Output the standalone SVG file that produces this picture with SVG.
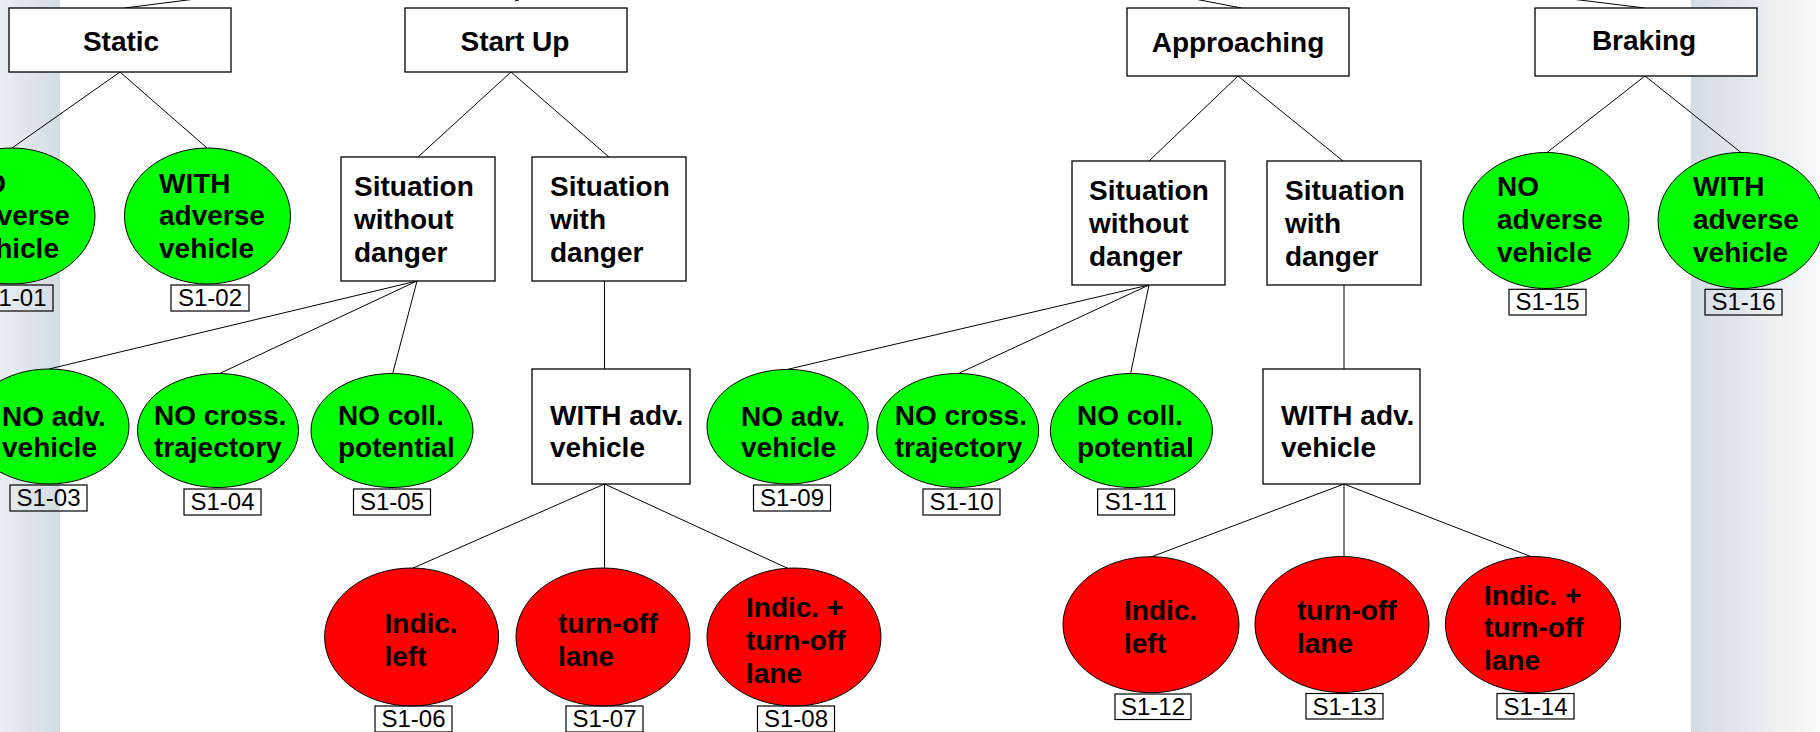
<svg xmlns="http://www.w3.org/2000/svg" width="1820" height="732" viewBox="0 0 1820 732">
<defs>
<linearGradient id="gl" x1="0" y1="0" x2="1" y2="0"><stop offset="0" stop-color="#e9eef1"/><stop offset="1" stop-color="#d2dce3"/></linearGradient>
<linearGradient id="gr" x1="0" y1="0" x2="1" y2="0"><stop offset="0" stop-color="#d2dce3"/><stop offset="1" stop-color="#f9fafb"/></linearGradient>
<style>
.box{fill:#fff;stroke:#000;stroke-width:1.3}
.g{fill:#00ff00;stroke:#000;stroke-width:1}
.r{fill:#ff0000;stroke:#000;stroke-width:1}
.lb{fill:none;stroke:#000;stroke-width:1.2}
.t{font-family:"Liberation Sans",Arial,sans-serif;font-weight:bold;font-size:28px;fill:#000}
.c{text-anchor:middle}
.s{font-family:"Liberation Sans",Arial,sans-serif;font-size:24px;fill:#000;text-anchor:middle}
.conn line{stroke:#000;stroke-width:1}
</style>
</defs>
<rect x="0" y="0" width="1820" height="732" fill="#fff"/>
<rect x="0" y="0" width="60" height="732" fill="url(#gl)"/>
<rect x="1691" y="0" width="129" height="732" fill="url(#gr)"/>

<g id="connectors" class="conn">
<line x1="124.5" y1="8" x2="203.5" y2="-2"/>
<line x1="515" y1="1" x2="519" y2="0"/>
<line x1="1241.5" y1="8" x2="1189.5" y2="-2"/>
<line x1="1644.8" y1="8" x2="1563.5" y2="-2"/>
<line x1="120" y1="72" x2="12" y2="148"/>
<line x1="120" y1="72" x2="207" y2="148"/>
<line x1="511" y1="72" x2="418" y2="157"/>
<line x1="511" y1="72" x2="609" y2="157"/>
<line x1="417" y1="281" x2="49" y2="369"/>
<line x1="417" y1="281" x2="219.6" y2="373.5"/>
<line x1="417" y1="281" x2="392.7" y2="373.5"/>
<line x1="604.5" y1="281" x2="604.5" y2="369"/>
<line x1="604.5" y1="484" x2="412" y2="568.5"/>
<line x1="604.5" y1="484" x2="604.5" y2="568.5"/>
<line x1="604.5" y1="484" x2="788" y2="568.5"/>
<line x1="1238" y1="76" x2="1149" y2="161"/>
<line x1="1238" y1="76" x2="1343" y2="161"/>
<line x1="1149" y1="285" x2="787.8" y2="369.3"/>
<line x1="1149" y1="285" x2="958.4" y2="373.5"/>
<line x1="1149" y1="285" x2="1130.6" y2="373.5"/>
<line x1="1344" y1="285" x2="1344" y2="369"/>
<line x1="1344" y1="484" x2="1151" y2="557"/>
<line x1="1344" y1="484" x2="1344" y2="557"/>
<line x1="1344" y1="484" x2="1532" y2="557"/>
<line x1="1645" y1="76" x2="1547" y2="152.5"/>
<line x1="1645" y1="76" x2="1741" y2="152.5"/>
</g>

<g id="static"><rect class="box" x="9" y="8" width="222" height="64"/><text class="t c" x="121" y="51">Static</text></g>
<g id="startup"><rect class="box" x="405" y="8" width="222" height="64"/><text class="t c" x="515" y="51">Start Up</text></g>
<g id="approaching"><rect class="box" x="1127" y="8" width="222" height="68"/><text class="t c" x="1238" y="52">Approaching</text></g>
<g id="braking"><rect class="box" x="1535" y="8" width="222" height="68"/><text class="t c" x="1644" y="50">Braking</text></g>

<g id="su-without"><rect class="box" x="341" y="157" width="154" height="124"/><text class="t" x="354"><tspan x="354" y="196">Situation</tspan><tspan x="354" y="229">without</tspan><tspan x="354" y="262">danger</tspan></text></g>
<g id="su-with"><rect class="box" x="532" y="157" width="154" height="124"/><text class="t" x="550"><tspan x="550" y="196">Situation</tspan><tspan x="550" y="229">with</tspan><tspan x="550" y="262">danger</tspan></text></g>
<g id="su-withadv"><rect class="box" x="532" y="369" width="158" height="115"/><text class="t"><tspan x="550" y="425">WITH adv.</tspan><tspan x="550" y="457">vehicle</tspan></text></g>
<g id="ap-without"><rect class="box" x="1072" y="161" width="153" height="124"/><text class="t"><tspan x="1089" y="200">Situation</tspan><tspan x="1089" y="233">without</tspan><tspan x="1089" y="266">danger</tspan></text></g>
<g id="ap-with"><rect class="box" x="1267" y="161" width="154" height="124"/><text class="t"><tspan x="1285" y="200">Situation</tspan><tspan x="1285" y="233">with</tspan><tspan x="1285" y="266">danger</tspan></text></g>
<g id="ap-withadv"><rect class="box" x="1263" y="369" width="157" height="115"/><text class="t"><tspan x="1281" y="425">WITH adv.</tspan><tspan x="1281" y="457">vehicle</tspan></text></g>

<g id="s1-01"><ellipse class="g" cx="12" cy="216" rx="83" ry="68"/><text class="t"><tspan x="-36" y="193">NO</tspan><tspan x="-36" y="225">adverse</tspan><tspan x="-36" y="258">vehicle</tspan></text><rect class="lb" x="-24" y="285" width="77" height="26"/><text class="s" x="14.5" y="306">S1-01</text></g>
<g id="s1-02"><ellipse class="g" cx="207.5" cy="216" rx="83" ry="68"/><text class="t"><tspan x="159" y="193">WITH</tspan><tspan x="159" y="225">adverse</tspan><tspan x="159" y="258">vehicle</tspan></text><rect class="lb" x="171" y="285" width="78" height="26"/><text class="s" x="210" y="306">S1-02</text></g>
<g id="s1-03"><ellipse class="g" cx="49" cy="426.5" rx="80" ry="57.5"/><text class="t"><tspan x="2" y="426">NO adv.</tspan><tspan x="2" y="457">vehicle</tspan></text><rect class="lb" x="10" y="485" width="77" height="26"/><text class="s" x="48.5" y="506">S1-03</text></g>
<g id="s1-04"><ellipse class="g" cx="218" cy="430.5" rx="80.5" ry="57"/><text class="t"><tspan x="154" y="425">NO cross.</tspan><tspan x="154" y="457">trajectory</tspan></text><rect class="lb" x="184" y="489" width="77" height="26"/><text class="s" x="222.5" y="510">S1-04</text></g>
<g id="s1-05"><ellipse class="g" cx="392" cy="430.5" rx="81" ry="57"/><text class="t"><tspan x="338" y="425">NO coll.</tspan><tspan x="338" y="457">potential</tspan></text><rect class="lb" x="353.5" y="489" width="77" height="26"/><text class="s" x="392" y="510">S1-05</text></g>
<g id="s1-06"><ellipse class="r" cx="411.6" cy="637" rx="87" ry="69"/><text class="t"><tspan x="384.5" y="633">Indic.</tspan><tspan x="384.5" y="666">left</tspan></text><rect class="lb" x="375" y="706" width="77" height="26"/><text class="s" x="413.5" y="727">S1-06</text></g>
<g id="s1-07"><ellipse class="r" cx="603" cy="637" rx="87" ry="69"/><text class="t"><tspan x="558" y="633">turn-off</tspan><tspan x="558" y="666">lane</tspan></text><rect class="lb" x="566" y="706" width="77" height="26"/><text class="s" x="604.5" y="727">S1-07</text></g>
<g id="s1-08"><ellipse class="r" cx="794" cy="637" rx="87" ry="69"/><text class="t"><tspan x="746" y="617">Indic. +</tspan><tspan x="746" y="650">turn-off</tspan><tspan x="746" y="683">lane</tspan></text><rect class="lb" x="757.5" y="706" width="77" height="26"/><text class="s" x="796" y="727">S1-08</text></g>
<g id="s1-09"><ellipse class="g" cx="787.6" cy="426.7" rx="80.6" ry="57.3"/><text class="t"><tspan x="741" y="426">NO adv.</tspan><tspan x="741" y="457">vehicle</tspan></text><rect class="lb" x="753.5" y="485" width="77" height="26"/><text class="s" x="792" y="506">S1-09</text></g>
<g id="s1-10"><ellipse class="g" cx="957.7" cy="430.5" rx="81" ry="57"/><text class="t"><tspan x="894.7" y="425">NO cross.</tspan><tspan x="894.7" y="457">trajectory</tspan></text><rect class="lb" x="923" y="489" width="77" height="26"/><text class="s" x="961.5" y="510">S1-10</text></g>
<g id="s1-11"><ellipse class="g" cx="1131.4" cy="430.5" rx="81" ry="57"/><text class="t"><tspan x="1077" y="425">NO coll.</tspan><tspan x="1077" y="457">potential</tspan></text><rect class="lb" x="1097.6" y="489" width="77" height="26"/><text class="s" x="1136" y="510">S1-11</text></g>
<g id="s1-12"><ellipse class="r" cx="1151" cy="624.7" rx="88" ry="68"/><text class="t"><tspan x="1124" y="620">Indic.</tspan><tspan x="1124" y="653">left</tspan></text><rect class="lb" x="1115" y="694" width="76" height="25.5"/><text class="s" x="1153" y="714.5">S1-12</text></g>
<g id="s1-13"><ellipse class="r" cx="1342" cy="624.5" rx="87" ry="68"/><text class="t"><tspan x="1297" y="620">turn-off</tspan><tspan x="1297" y="653">lane</tspan></text><rect class="lb" x="1306" y="693.5" width="77" height="25.5"/><text class="s" x="1344.5" y="714.5">S1-13</text></g>
<g id="s1-14"><ellipse class="r" cx="1533" cy="624.5" rx="87.6" ry="68"/><text class="t"><tspan x="1484" y="605">Indic. +</tspan><tspan x="1484" y="637">turn-off</tspan><tspan x="1484" y="670">lane</tspan></text><rect class="lb" x="1497" y="693.5" width="77" height="25.5"/><text class="s" x="1535.5" y="714.5">S1-14</text></g>
<g id="s1-15"><ellipse class="g" cx="1546" cy="220.5" rx="83" ry="68"/><text class="t"><tspan x="1497" y="196">NO</tspan><tspan x="1497" y="229">adverse</tspan><tspan x="1497" y="262">vehicle</tspan></text><rect class="lb" x="1509" y="289.3" width="77" height="25.7"/><text class="s" x="1547.5" y="310">S1-15</text></g>
<g id="s1-16"><ellipse class="g" cx="1741" cy="220.5" rx="83" ry="68"/><text class="t"><tspan x="1693" y="196">WITH</tspan><tspan x="1693" y="229">adverse</tspan><tspan x="1693" y="262">vehicle</tspan></text><rect class="lb" x="1705" y="289.3" width="77" height="25.7"/><text class="s" x="1743.5" y="310">S1-16</text></g>
</svg>
